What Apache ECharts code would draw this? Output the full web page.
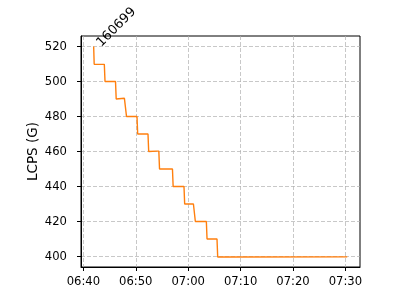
<!DOCTYPE html>
<html>
<head>
<meta charset="utf-8">
<script src="https://cdn.jsdelivr.net/npm/echarts@6/dist/echarts.min.js"></script>
<style>html,body{margin:0;padding:0;background:#fff;}#c{width:400px;height:300px;}</style>
</head>
<body>
<div id="c"></div>
<script>
// ---- data ----
const pointTimes = [
  '06:41:58','06:42:04','06:44:00','06:44:08','06:46:08','06:46:16',
  '06:47:50','06:48:06','06:48:14','06:50:14','06:50:22','06:52:20',
  '06:52:28','06:54:00','06:54:24','06:54:32','06:57:00','06:57:08',
  '06:59:12','06:59:20','07:01:00','07:01:14','07:01:22','07:03:28',
  '07:03:36','07:05:30','07:05:38','07:07:16','07:07:22','07:30:21'
];
const pointValues = [
  520, 509.8, 509.8, 500, 500, 490,
  490.4, 490.4, 480, 480, 470, 470,
  460, 460.2, 460.2, 450, 450, 440,
  440, 430, 430, 430.3, 420, 420,
  410, 410, 399.7, 399.7, 400.1, 399.8
];
const xTickLabels = ['06:40','06:50','07:00','07:10','07:20','07:30'];
const yTicks = [400, 420, 440, 460, 480, 500, 520];
const xRange = ['06:39:33', '07:32:47'];
const yRange = [394, 526];
const annotationText = '160699';
const yAxisTitle = 'LCPS (G)';

// ---- helpers ----
function toMs(s) {
  const p = s.split(':').map(Number);
  return Date.UTC(2024, 0, 1, p[0], p[1], p[2] || 0);
}
function fmt(v) {
  const d = new Date(v);
  const h = String(d.getUTCHours()).padStart(2, '0');
  const m = String(d.getUTCMinutes()).padStart(2, '0');
  return h + ':' + m;
}
const seriesData = pointTimes.map((t, i) => [toMs(t), pointValues[i]]);
const xTicks = xTickLabels.map(toMs);

const FONT = 'DejaVu Sans';
const chart = echarts.init(document.getElementById('c'), null, {renderer: 'canvas'});
const option = {
  animation: false,
  backgroundColor: '#ffffff',
  grid: {
    left: 81, right: 40, top: 36, bottom: 33,
    show: true, borderColor: '#000', borderWidth: 1, backgroundColor: 'transparent'
  },
  xAxis: {
    type: 'value',
    min: toMs(xRange[0]),
    max: toMs(xRange[1]),
    axisLine: {show: true, lineStyle: {color: '#000', width: 1}},
    axisTick: {show: true, inside: false, length: 4, customValues: xTicks, lineStyle: {color: '#000', width: 1}},
    axisLabel: {
      customValues: xTicks, formatter: fmt, color: '#000',
      fontFamily: FONT, fontSize: 11.6, margin: 9
    },
    splitLine: {show: true, lineStyle: {color: '#b0b0b0', width: 0.7, type: [4, 2]}}
  },
  yAxis: {
    type: 'value',
    min: yRange[0],
    max: yRange[1],
    name: yAxisTitle,
    nameLocation: 'middle',
    nameRotate: 90,
    nameGap: 41,
    nameMoveOverlap: false,
    nameTextStyle: {color: '#000', fontFamily: FONT, fontSize: 13.5},
    axisLine: {show: true, lineStyle: {color: '#000', width: 1}},
    axisTick: {show: true, inside: false, length: 4, customValues: yTicks, lineStyle: {color: '#000', width: 1}},
    axisLabel: {
      customValues: yTicks, color: '#000',
      fontFamily: FONT, fontSize: 11.6, margin: 14
    },
    splitLine: {show: true, lineStyle: {color: '#b0b0b0', width: 0.7, type: [4, 2]}}
  },
  series: [{
    type: 'line',
    data: seriesData,
    showSymbol: false,
    symbol: 'none',
    lineStyle: {color: '#ff7f0e', width: 1.4},
    itemStyle: {color: '#ff7f0e'},
    z: 3
  }]
};
chart.setOption(option);

// annotation placed at the first data point, rotated 45 degrees
const p0 = chart.convertToPixel({xAxisIndex: 0, yAxisIndex: 0}, seriesData[0]);
const fs = 13;
const h = fs * 1.17;
chart.setOption({
  graphic: [{
    type: 'text',
    x: p0[0] + h * 0.707 - 1,
    y: p0[1] + 3,
    rotation: Math.PI / 4,
    style: {
      text: annotationText,
      fontFamily: FONT, fontSize: fs, fill: '#000',
      align: 'left', verticalAlign: 'bottom'
    },
    z: 10
  }]
});
</script>
</body>
</html>
